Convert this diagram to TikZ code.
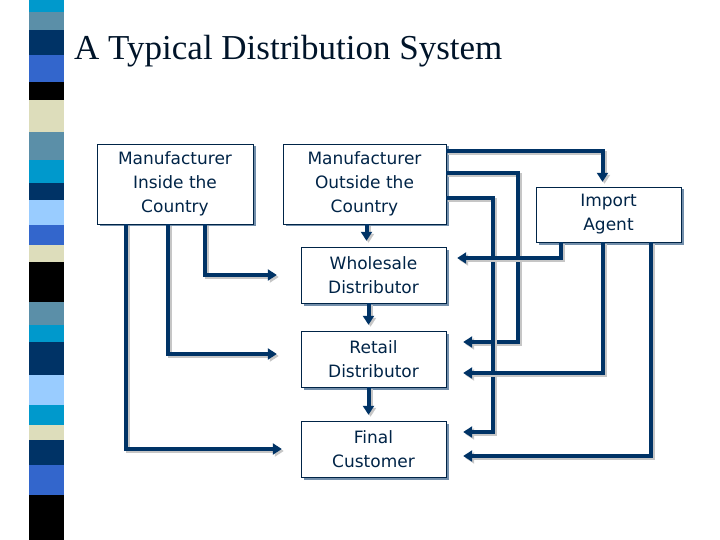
\documentclass[tikz,border=0pt]{standalone}
\usepackage{fontspec}
\setmainfont{DejaVu Sans}
\newfontfamily\titlefont{Liberation Serif}
\usetikzlibrary{arrows.meta,shadows}
\definecolor{navy}{HTML}{003366}
\definecolor{steel}{HTML}{5B8FA8}
\definecolor{cyanb}{HTML}{0099CC}
\definecolor{royal}{HTML}{3366CC}
\definecolor{beige}{HTML}{DDDDBB}
\definecolor{lightb}{HTML}{99CCFF}
\tikzset{
  box/.style={draw=navy!70!black,fill=white,inner sep=0pt,align=center,
    font=\fontsize{17}{24}\selectfont,text=navy!70!black,
    drop shadow={shadow xshift=2.5pt,shadow yshift=-2.5pt,fill=navy!55,opacity=1}},
  link/.style={draw=navy,line width=4pt,-{Triangle[length=9pt,width=11pt]},
    preaction={draw=gray!45,line width=4pt,transform canvas={shift={(2pt,-2pt)}}}}
}
\begin{document}
\begin{tikzpicture}[x=1pt,y=-1pt]
  \useasboundingbox (0,0) rectangle (720,540);
  % side stripe
  \foreach \a/\b/\c in {0/12/cyanb,12/30/steel,30/55/navy,55/82/royal,82/100/black,
      100/132/beige,132/160/steel,160/183/cyanb,183/200/navy,200/225/lightb,
      225/245/royal,245/262/beige,262/302/black,302/325/steel,325/342/cyanb,
      342/375/navy,375/405/lightb,405/425/cyanb,425/440/beige,440/465/navy,
      465/495/royal,495/540/black}
    \fill[\c] (29,\a) rectangle (64,\b);
  \node[anchor=base west,inner sep=0pt,font=\titlefont\fontsize{35}{35}\selectfont,text=navy!40!black]
    (title) at (74,60) {A Typical Distribution System};

  \node[box,minimum width=156pt,minimum height=80pt] (mi) at (175,184) {Manufacturer\\Inside the\\Country};
  \node[box,minimum width=163pt,minimum height=80pt] (mo) at (364.5,184) {Manufacturer\\Outside the\\Country};
  \node[box,minimum width=145pt,minimum height=55pt] (ia) at (608.5,214.5) {Import\\Agent};
  \node[box,minimum width=145pt,minimum height=56pt] (wd) at (373.5,275) {Wholesale\\Distributor};
  \node[box,minimum width=145pt,minimum height=56pt] (rd) at (373.5,359) {Retail\\Distributor};
  \node[box,minimum width=145pt,minimum height=56pt] (fc) at (373.5,449) {Final\\Customer};

  % manufacturer inside
  \draw[link] ([xshift=30pt]mi.south) |- ([xshift=-24pt]wd.west);
  \draw[link] ([xshift=-7pt]mi.south) |- ([xshift=-24pt,yshift=5pt]rd.west);
  \draw[link] ([xshift=-49pt]mi.south) |- ([xshift=-19pt]fc.west);
  % main chain
  \draw[link,shorten >=6pt] ([xshift=-7pt]wd.north |- mo.south) -- ([xshift=-7pt]wd.north);
  \draw[link,shorten >=6pt] ([xshift=-5pt]wd.south) -- ([xshift=-5pt]rd.north);
  \draw[link,shorten >=6pt] ([xshift=-5pt]rd.south) -- ([xshift=-5pt]fc.north);
  % manufacturer outside
  \draw[link,shorten >=5pt] ([yshift=33pt]mo.east) -| ([xshift=-6pt]ia.north);
  \draw[link] ([yshift=11pt]mo.east) -| ([xshift=72pt,yshift=17pt]rd.east) -- ([xshift=17pt,yshift=17pt]rd.east);
  \draw[link] ([yshift=-14pt]mo.east) -| ([xshift=47pt,yshift=17pt]fc.east) -- ([xshift=17pt,yshift=17pt]fc.east);
  % import agent
  \draw[link] ([xshift=-48pt]ia.south) |- ([xshift=11pt,yshift=17pt]wd.east);
  \draw[link] ([xshift=-6pt]ia.south) |- ([xshift=17pt,yshift=-14pt]rd.east);
  \draw[link] ([xshift=42pt]ia.south) |- ([xshift=17pt,yshift=-7pt]fc.east);
\end{tikzpicture}
\end{document}
